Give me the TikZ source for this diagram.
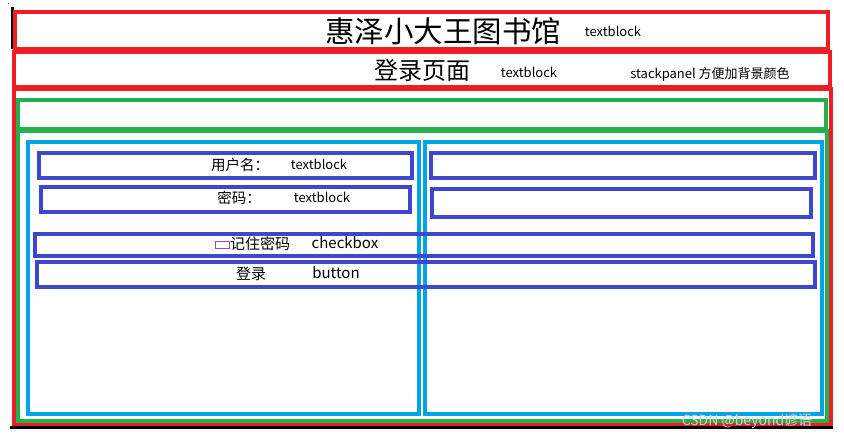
\documentclass[tikz,border=0pt]{standalone}
\usepackage{fontspec}
\setmainfont{Noto Sans CJK SC}
\usepackage{tikz}
\usepackage{xcolor}
\definecolor{pred}{HTML}{EE1C25}
\definecolor{pgreen}{HTML}{22B14C}
\definecolor{pcyan}{HTML}{00A2E8}
\definecolor{pblue}{HTML}{3F48CC}
\definecolor{ppurple}{HTML}{A349A4}
\tikzset{
  redbox/.style={draw=pred, line width=4.5pt},
  greenbox/.style={draw=pgreen, line width=4.5pt},
  cyanbox/.style={draw=pcyan, line width=4pt},
  bluebox/.style={draw=pblue, line width=4pt},
  lbl/.style={inner sep=0pt, font=\fontsize{13}{15}\selectfont},
}
\begin{document}
\begin{tikzpicture}[x=1pt, y=-1pt]
        \useasboundingbox (0,0) rectangle (844,438);
        \fill[black] (10,426) rectangle (833,429);
        \fill[black] (11,7) rectangle (14,49);
        \fill[pred] (8,3) rectangle (9,4);

        \draw[redbox] (15,12) rectangle (828,49);
        \draw[redbox] (14,52) rectangle (830,87);
        \draw[redbox] (14,89) rectangle (831,424);
        \draw[greenbox] (18,100) rectangle (826,129);
        \draw[greenbox] (18,131) rectangle (827,421);
        \draw[cyanbox] (28,142) rectangle (419,414);
        \draw[cyanbox] (425,142) rectangle (822,414);

        \draw[bluebox] (39,153) rectangle (412,178);
        \draw[bluebox] (431,153) rectangle (815,178);
        \draw[bluebox] (41,187) rectangle (410,212);
        \draw[bluebox] (432,189) rectangle (811,217);
        \draw[bluebox] (35,234) rectangle (813,256);
        \draw[bluebox] (37,262) rectangle (815,287);

        \node (title) at (443,31) {\fontsize{29.5}{33}\selectfont 惠泽小大王图书馆};
        \node[lbl] (titletb) at (613,31) {textblock};
        \node (login) at (422,70) {\fontsize{24}{28}\selectfont 登录页面};
        \node[lbl] (logintb) at (529,72) {textblock};
        \node[lbl] (stack) at (710,74) {stackpanel 方便加背景颜色};
        \node[lbl, font=\fontsize{14.5}{16}\selectfont] (user) at (240,165) {用户名：};
        \node[lbl] (usertb) at (319,164) {textblock};
        \node[lbl, font=\fontsize{14.5}{16}\selectfont] (pwd) at (239,198) {密码：};
        \node[lbl] (pwdtb) at (322,197) {textblock};
        \draw[ppurple, line width=0.8pt] (215,241) rectangle (229,248);
        \node[lbl, font=\fontsize{15}{17}\selectfont] (remember) at (260,244) {记住密码};
        \node[lbl, font=\fontsize{15}{17}\selectfont] (check) at (345,243) {checkbox};
        \node[lbl, font=\fontsize{15}{17}\selectfont] (loginbtn) at (251,274) {登录};
        \node[lbl, font=\fontsize{15}{17}\selectfont] (button) at (336,273) {button};
        \node[lbl, text=gray!35, font=\fontsize{14}{16}\selectfont] (mark) at (747,421) {CSDN @beyond谚语};
\end{tikzpicture}
\end{document}
